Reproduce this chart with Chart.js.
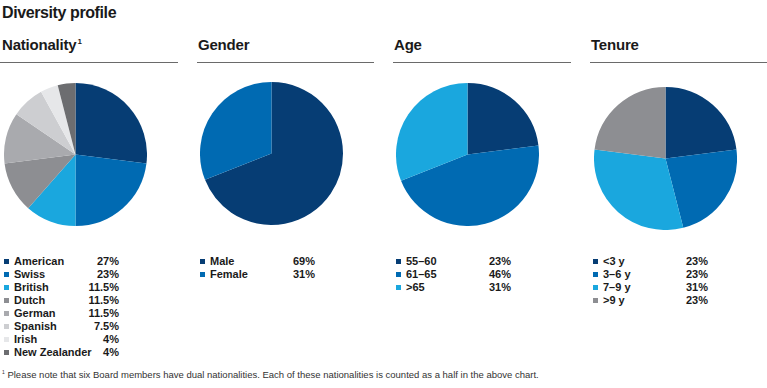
<!DOCTYPE html>
<html>
<head>
<meta charset="utf-8">
<script src="https://cdn.jsdelivr.net/npm/chart.js"></script>
<style>
  body { margin: 0; width: 767px; height: 388px; background: #fff; position: relative; overflow: hidden;
         font-family: "Liberation Sans", Arial, sans-serif; color: #1a1a1a; }
  .abs { position: absolute; }
  #title { left: 2px; top: 4px; font-size: 16px; font-weight: bold; letter-spacing: -0.4px; }
  .head { font-size: 15px; font-weight: bold; letter-spacing: -0.2px; top: 36px; }
  .head sup { font-size: 8px; vertical-align: 6px; font-weight: bold; margin-left: 1px; }
  .rule { top: 62px; height: 1px; background: #6a6a6a; }
  .legend { top: 255px; font-size: 11px; font-weight: bold; }
  .row { position: relative; height: 13px; line-height: 13px; white-space: nowrap; }
  .sw { position: absolute; left: 0; top: 4px; width: 5px; height: 5px; }
  .lab { position: absolute; left: 10px; }
  .pct { position: absolute; right: 0; }
  #note { left: 2px; top: 369px; font-size: 9.5px; color: #333; }
  #note sup { font-size: 5px; vertical-align: 4px; }
  canvas { position: absolute; }
</style>
</head>
<body>
<div id="title" class="abs">Diversity profile</div>
<div id="note" class="abs"><sup>1</sup> Please note that six Board members have dual nationalities. Each of these nationalities is counted as a half in the above chart.</div>

<script>
// Datos de cada gráfico
const natLabels = ['American', 'Swiss', 'British', 'Dutch', 'German', 'Spanish', 'Irish', 'New Zealander'];
const natValues = [27, 23, 11.5, 11.5, 11.5, 7.5, 4, 4];

const genderLabels = ['Male', 'Female'];
const genderValues = [69, 31];

const ageLabels = ['55–60', '61–65', '>65'];
const ageValues = [23, 46, 31];

const tenureLabels = ['<3 y', '3–6 y', '7–9 y', '>9 y'];
const tenureValues = [23, 23, 31, 23];

// Colores
const navy = '#063d74';
const blue = '#006ab2';
const sky = '#1aa7de';
const natColors = [navy, blue, sky, '#8d8e92', '#a9aaae', '#cdced1', '#e6e7e9', '#6c6d70'];

const panels = [
  { id: 'nat', title: 'Nationality', sup: '1', x: 0, ruleW: 178, cx: 75, cy: 154, labels: natLabels, values: natValues, colors: natColors },
  { id: 'gender', title: 'Gender', x: 196, ruleW: 177, cx: 271.5, cy: 153.5, labels: genderLabels, values: genderValues, colors: [navy, blue] },
  { id: 'age', title: 'Age', x: 392, ruleW: 178, cx: 467, cy: 154.5, labels: ageLabels, values: ageValues, colors: [navy, blue, sky] },
  { id: 'tenure', title: 'Tenure', x: 589, ruleW: 178, cx: 665.5, cy: 158, labels: tenureLabels, values: tenureValues, colors: [navy, blue, sky, '#8d8e92'] },
];

const R = 71.5;

panels.forEach(p => {
  const head = document.createElement('div');
  head.className = 'abs head';
  head.style.left = (p.x + 2) + 'px';
  head.innerHTML = p.title + (p.sup ? '<sup>' + p.sup + '</sup>' : '');
  document.body.appendChild(head);

  const rule = document.createElement('div');
  rule.className = 'abs rule';
  rule.style.left = (p.x === 0 ? 0 : p.x + 1) + 'px';
  rule.style.width = p.ruleW + 'px';
  document.body.appendChild(rule);

  const canvas = document.createElement('canvas');
  canvas.width = R * 2;
  canvas.height = R * 2;
  canvas.style.left = (p.cx - R) + 'px';
  canvas.style.top = (p.cy - R) + 'px';
  canvas.style.width = (R * 2) + 'px';
  canvas.style.height = (R * 2) + 'px';
  document.body.appendChild(canvas);

  new Chart(canvas.getContext('2d'), {
    type: 'pie',
    data: {
      labels: p.labels,
      datasets: [{
        data: p.values,
        backgroundColor: p.colors,
        borderWidth: 0,
      }],
    },
    options: {
      responsive: false,
      animation: false,
      devicePixelRatio: 1,
      layout: { padding: 0 },
      plugins: { legend: { display: false }, tooltip: { enabled: false } },
    },
  });

  // Leyenda en HTML
  const legend = document.createElement('div');
  legend.className = 'abs legend';
  legend.style.left = (p.x + 4) + 'px';
  legend.style.width = '115px';
  p.labels.forEach((lab, i) => {
    const row = document.createElement('div');
    row.className = 'row';
    row.innerHTML = `<span class="sw" style="background:${p.colors[i]}"></span>
      <span class="lab">${lab.replace('<', '&lt;').replace('>', '&gt;')}</span>
      <span class="pct">${p.values[i]}%</span>`;
    legend.appendChild(row);
  });
  document.body.appendChild(legend);
});
</script>
</body>
</html>
